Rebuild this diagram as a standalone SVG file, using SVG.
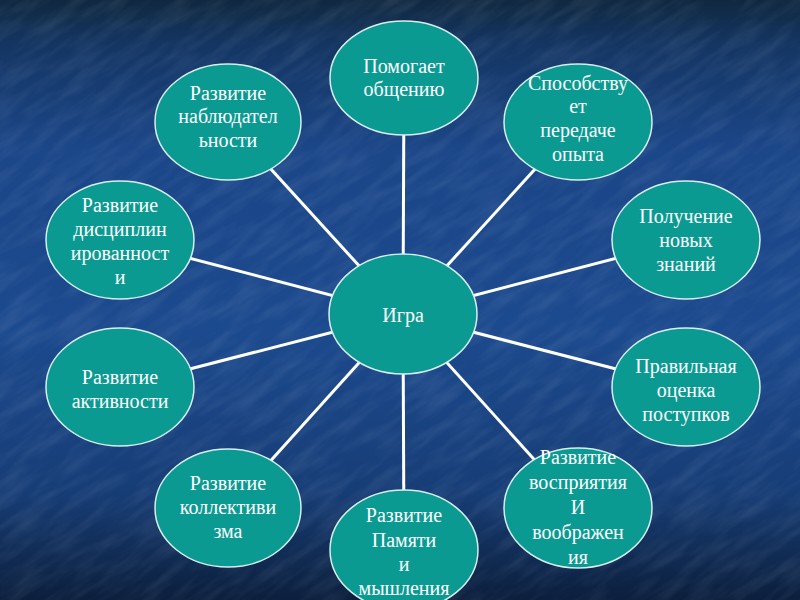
<svg xmlns="http://www.w3.org/2000/svg" width="800" height="600" viewBox="0 0 800 600">
  <defs>
    <linearGradient id="bg" x1="0" y1="0" x2="0" y2="1">
      <stop offset="0" stop-color="#10283f"/>
      <stop offset="0.07" stop-color="#143562"/>
      <stop offset="0.25" stop-color="#1b4688"/>
      <stop offset="0.55" stop-color="#1c4a8e"/>
      <stop offset="0.82" stop-color="#173d76"/>
      <stop offset="1" stop-color="#0c1f3c"/>
    </linearGradient>
    <filter id="tex" x="0" y="0" width="1" height="1">
      <feTurbulence type="fractalNoise" baseFrequency="0.02 0.09" numOctaves="4" seed="11"/>
      <feColorMatrix type="matrix" values="0 0 0 0 0.75  0 0 0 0 0.85  0 0 0 0 1  0.8 0 0 0 -0.3"/>
    </filter>
    <style>
      .node ellipse { fill: #0b9a92; stroke: #d8eeee; stroke-width: 1.5; }
      .node text { fill: #ffffff; font-size: 20px; text-anchor: middle; }
      .conn line { stroke: #ffffff; stroke-width: 3; }
    </style>
  </defs>

  <rect x="0" y="0" width="800" height="600" fill="url(#bg)"/>
  <g transform="rotate(-35 400 300)" opacity="0.22">
    <rect x="-300" y="-300" width="1400" height="1200" filter="url(#tex)"/>
  </g>

  <g id="connectors" class="conn">
    <line x1="403" y1="314" x2="404" y2="78"/>
    <line x1="403" y1="314" x2="578" y2="122"/>
    <line x1="403" y1="314" x2="228" y2="122"/>
    <line x1="403" y1="314" x2="686" y2="240"/>
    <line x1="403" y1="314" x2="120" y2="240"/>
    <line x1="403" y1="314" x2="686" y2="387"/>
    <line x1="403" y1="314" x2="120" y2="387"/>
    <line x1="403" y1="314" x2="578" y2="508"/>
    <line x1="403" y1="314" x2="228" y2="508"/>
    <line x1="403" y1="314" x2="404" y2="550"/>
  </g>

  <g font-family="Liberation Serif, Times New Roman, serif">
  <g id="center" class="node">
    <ellipse cx="403" cy="314" rx="74" ry="60"/>
    <text x="403" y="322">Игра</text>
  </g>

  <g id="n-top" class="node">
    <ellipse cx="404" cy="78" rx="74" ry="57"/>
    <text x="404" y="73">Помогает</text>
    <text x="404" y="96">общению</text>
  </g>

  <g id="n-tr" class="node">
    <ellipse cx="578" cy="122" rx="74" ry="58"/>
    <text x="578" y="90">Способству</text>
    <text x="578" y="113">ет</text>
    <text x="578" y="137">передаче</text>
    <text x="578" y="161">опыта</text>
  </g>

  <g id="n-tl" class="node">
    <ellipse cx="228" cy="122" rx="73" ry="58"/>
    <text x="228" y="100">Развитие</text>
    <text x="228" y="123">наблюдател</text>
    <text x="228" y="147">ьности</text>
  </g>

  <g id="n-r1" class="node">
    <ellipse cx="686" cy="240" rx="74" ry="59"/>
    <text x="686" y="223">Получение</text>
    <text x="686" y="247">новых</text>
    <text x="686" y="271">знаний</text>
  </g>

  <g id="n-l1" class="node">
    <ellipse cx="120" cy="240" rx="74" ry="59"/>
    <text x="120" y="212">Развитие</text>
    <text x="120" y="236">дисциплин</text>
    <text x="120" y="260">ированност</text>
    <text x="120" y="284">и</text>
  </g>

  <g id="n-r2" class="node">
    <ellipse cx="686" cy="387" rx="74" ry="59"/>
    <text x="686" y="373">Правильная</text>
    <text x="686" y="397">оценка</text>
    <text x="686" y="421">поступков</text>
  </g>

  <g id="n-l2" class="node">
    <ellipse cx="120" cy="387" rx="74" ry="59"/>
    <text x="120" y="384">Развитие</text>
    <text x="120" y="408">активности</text>
  </g>

  <g id="n-br" class="node">
    <ellipse cx="578" cy="508" rx="74" ry="60"/>
    <text x="578" y="464">Развитие</text>
    <text x="578" y="489">восприятия</text>
    <text x="578" y="514">И</text>
    <text x="578" y="539">воображен</text>
    <text x="578" y="564">ия</text>
  </g>

  <g id="n-bl" class="node">
    <ellipse cx="228" cy="508" rx="73" ry="59"/>
    <text x="228" y="490">Развитие</text>
    <text x="228" y="514">коллективи</text>
    <text x="228" y="538">зма</text>
  </g>

  <g id="n-b" class="node">
    <ellipse cx="404" cy="550" rx="74" ry="60"/>
    <text x="404" y="522">Развитие</text>
    <text x="404" y="547">Памяти</text>
    <text x="404" y="571">и</text>
    <text x="404" y="595">мышления</text>
  </g>
  </g>
</svg>
